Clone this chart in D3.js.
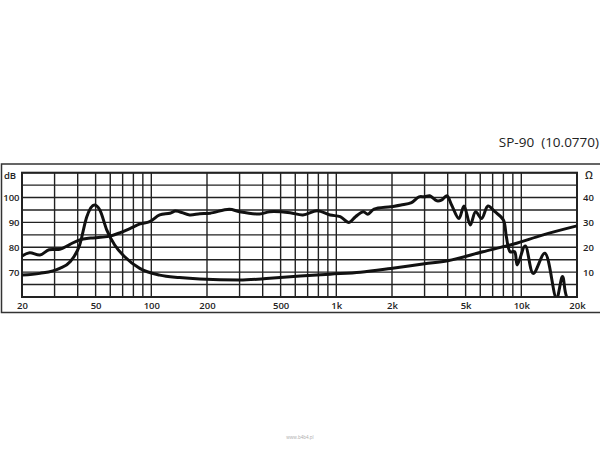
<!DOCTYPE html>
<html><head><meta charset="utf-8">
<script src="https://cdn.jsdelivr.net/npm/d3@7"></script>
<style>
html,body{margin:0;padding:0;background:#fff;}
svg{display:block;}
text{font-family:"Open Sans","DejaVu Sans",sans-serif;fill:#222;}
</style></head>
<body>
<script>
// ---- data ----
const title = "SP-90  (10.0770)";
const footer = "www.b4b4.pl";
const splFreq = [20,22,25,28,32,36,41,47,53,60,68,77,87,98,111,126,135,142,161,183,208,264,300,385,437,563,660,788,927,1050,1170,1270,1400,1480,1600,1970,2240,2550,2800,3000,3200,3500,3700,3960,4200,4600,4900,5300,5660,6100,6600,7200,8000,8300,8700,9200,9500,10500,11600,13400,15500,16700,17800,20000];
const splDb = [76.5,77.8,76.9,79.0,79.2,81,83,83.7,84,84.5,85.9,87.6,89.4,90.3,93,93.7,94.6,94.3,93,93.5,93.7,95.3,94.3,93.4,94.3,93.9,93,94.7,93,92.3,90,92.3,94.3,93.3,95.3,96.3,97,98,100.3,100.3,100.7,98.7,99,100.7,97,91.6,96.6,89,94.3,91.6,96.6,94.3,91,84.3,78.2,78.2,72.9,80.5,69.5,77.6,59.5,68.2,59.5,59.5];
const impFreq = [20,25,32,36.4,41,44.8,49.2,52.7,57.4,63.4,71.8,86.6,111,142,183,300,437,638,927,1350,1970,3000,4000,6200,9100,13000,20000];
const impOhm = [8.8,9.5,11.5,14.2,20.9,32.3,37,35,27,20.9,16.2,11.5,8.8,7.8,7.2,6.8,7.5,8.4,9.2,10,11.5,13.4,14.6,18.2,21.3,24.9,28.6];
const gridFreqs = [20,30,40,50,60,70,80,90,100,200,300,400,500,600,700,800,900,1000,2000,3000,4000,5000,6000,7000,8000,9000,10000,20000];
const xTickVals = [20,50,100,200,500,1000,2000,5000,10000,20000];
const xTickLabels = ["20","50","100","200","500","1k","2k","5k","10k","20k"];
const dbTicks = [70,80,90,100];
const ohmTicks = [10,20,30,40];

// ---- layout ----
const W = 600, H = 450;
const L = 22, R = 577, T = 172.7, B = 297;
const svg = d3.select("body").append("svg").attr("width", W).attr("height", H);

const x = d3.scaleLog().domain([20, 20000]).range([L, R]);
const yDb = d3.scaleLinear().domain([60, 110]).range([B, T]);
const yOhm = d3.scaleLinear().domain([0, 50]).range([B, T]);

// outer frame
svg.append("rect").attr("x", 1.5).attr("y", 164).attr("width", 605).attr("height", 148.5)
  .attr("fill", "none").attr("stroke", "#333").attr("stroke-width", 1.5);

// title
svg.append("text").attr("x", 599).attr("y", 147).attr("text-anchor", "end")
  .attr("font-size", 13.5).style("white-space", "pre").attr("xml:space", "preserve").text(title);

// grid
const g = svg.append("g");
g.selectAll(".hg").data(d3.range(60, 111, 5)).join("line")
  .attr("x1", L).attr("x2", R).attr("y1", d => yDb(d)).attr("y2", d => yDb(d))
  .attr("stroke", "#222").attr("stroke-width", 1.4);
g.selectAll(".vg").data(gridFreqs).join("line")
  .attr("x1", d => x(d)).attr("x2", d => x(d)).attr("y1", T).attr("y2", B)
  .attr("stroke", "#222").attr("stroke-width", 1.4);
g.append("rect").attr("x", L).attr("y", T).attr("width", R - L).attr("height", B - T)
  .attr("fill", "none").attr("stroke", "#222").attr("stroke-width", 2);

// axes labels (using d3 axes for positions)
const xAxis = d3.axisBottom(x).tickValues(xTickVals)
  .tickFormat((d, i) => xTickLabels[i]).tickSize(0).tickPadding(0);
const xa = svg.append("g").attr("transform", `translate(0,${B + 11.5})`).call(xAxis);
xa.select(".domain").remove();
xa.selectAll("text").attr("font-size", 9.5).attr("font-weight", 600).attr("fill", "#222")
  .attr("font-family", "'Open Sans',sans-serif").attr("dy", 0);

const yAxisL = d3.axisLeft(yDb).tickValues(dbTicks).tickSize(0).tickPadding(0);
const yl = svg.append("g").attr("transform", `translate(${L - 2.5},0)`).call(yAxisL);
yl.select(".domain").remove();
yl.selectAll("text").attr("font-size", 9.5).attr("font-weight", 600).attr("fill", "#222")
  .attr("font-family", "'Open Sans',sans-serif");

const yAxisR = d3.axisRight(yOhm).tickValues(ohmTicks).tickSize(0).tickPadding(0);
const yr = svg.append("g").attr("transform", `translate(${R + 6},0)`).call(yAxisR);
yr.select(".domain").remove();
yr.selectAll("text").attr("font-size", 9.5).attr("font-weight", 600).attr("fill", "#222")
  .attr("font-family", "'Open Sans',sans-serif");

svg.append("text").attr("x", 10).attr("y", 179).attr("text-anchor", "middle")
  .attr("font-size", 9.5).attr("font-weight", 600).text("dB");
svg.append("text").attr("x", 589).attr("y", 179).attr("text-anchor", "middle")
  .attr("font-size", 10).attr("font-weight", 600).text("Ω");

// clip
svg.append("clipPath").attr("id", "clip").append("rect")
  .attr("x", L).attr("y", T - 2).attr("width", R - L + 1).attr("height", B - T + 1.5);

const curves = svg.append("g").attr("clip-path", "url(#clip)");
const splLine = d3.line().x((d, i) => x(splFreq[i])).y(d => yDb(d)).curve(d3.curveCatmullRom.alpha(0.5));
const impLine = d3.line().x((d, i) => x(impFreq[i])).y(d => yOhm(d)).curve(d3.curveMonotoneX);

curves.append("path").datum(impOhm).attr("d", impLine)
  .attr("fill", "none").attr("stroke", "#111").attr("stroke-width", 3).attr("stroke-linejoin", "round");
curves.append("path").datum(splDb).attr("d", splLine)
  .attr("fill", "none").attr("stroke", "#111").attr("stroke-width", 3).attr("stroke-linejoin", "round");

// footer
svg.append("text").attr("x", 300).attr("y", 439).attr("text-anchor", "middle")
  .attr("font-size", 4.5).style("fill", "#aaa").text(footer);
</script>
</body></html>
